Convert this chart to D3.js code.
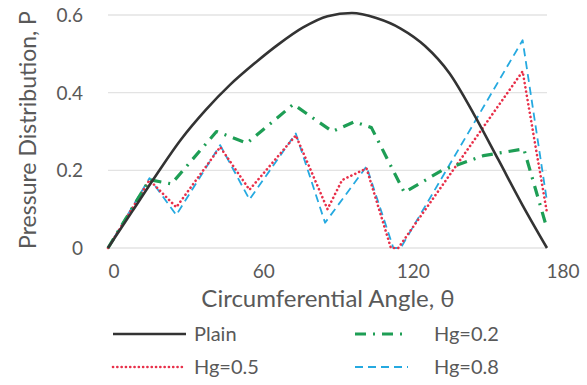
<!DOCTYPE html>
<html>
<head>
<meta charset="utf-8">
<script src="https://cdn.jsdelivr.net/npm/d3@7"></script>
<style>
  body { margin: 0; background: #fff; }
  text { font-family: Lato, "Open Sans", sans-serif; fill: #595959; }
</style>
</head>
<body>
<div id="chart"></div>
<script>
// chart data
var thetaPlain = [0, 10, 20, 30, 40, 50, 60, 70, 80, 90, 100, 110, 120, 130, 140, 150, 160, 170, 180];
var plain = [0, 0.095, 0.19, 0.28, 0.355, 0.42, 0.475, 0.525, 0.568, 0.597, 0.605, 0.592, 0.565, 0.52, 0.45, 0.345, 0.228, 0.11, 0];

var thetaHg02 = [0, 17, 26, 44.5, 57, 76, 92, 101, 108, 121.5, 137, 154, 170.5, 180];
var hg02 = [0, 0.176, 0.165, 0.30, 0.27, 0.37, 0.30, 0.325, 0.31, 0.143, 0.20, 0.238, 0.255, 0.05];

var thetaHg05 = [0, 17, 28, 46, 58, 77, 90, 96, 106, 116, 119, 170, 180];
var hg05 = [0, 0.175, 0.105, 0.26, 0.15, 0.29, 0.10, 0.175, 0.205, 0, 0, 0.455, 0.09];

var thetaHg08 = [0, 17, 28, 46, 58, 77, 89, 106, 117, 120, 170, 180];
var hg08 = [0, 0.18, 0.085, 0.265, 0.125, 0.295, 0.065, 0.21, 0, 0, 0.535, 0.12];

var xTicks = [0, 60, 120, 180];
var yTicks = [0, 0.2, 0.4, 0.6];
var yTickLabels = ["0", "0.2", "0.4", "0.6"];

var w = 587, h = 385;

var svg = d3.select("#chart").append("svg").attr("width", w).attr("height", h);

var x = d3.scaleLinear().domain([0, 180]).range([108, 547]);
var xLab = d3.scaleLinear().domain([0, 180]).range([114, 563]); // labels sit right of the plot ends
var y = d3.scaleLinear().domain([0, 0.6]).range([248, 15]);

// gridlines
svg.selectAll(".grid").data(yTicks).enter().append("line")
  .attr("x1", x(0)).attr("x2", x(180))
  .attr("y1", function(d) { return y(d); }).attr("y2", function(d) { return y(d); })
  .style("stroke", "#e3e3e3").style("stroke-width", 1.3);

// y tick labels
svg.selectAll(".ylab").data(yTicks).enter().append("text")
  .attr("x", 83).attr("y", function(d) { return y(d) + 7; })
  .attr("text-anchor", "end").style("font-size", "19px")
  .text(function(d, i) { return yTickLabels[i]; });

// x tick labels
svg.selectAll(".xlab").data(xTicks).enter().append("text")
  .attr("x", function(d) { return xLab(d); }).attr("y", 278)
  .attr("text-anchor", "middle").style("font-size", "19px")
  .text(function(d) { return d; });

// axis titles
svg.append("text").attr("x", 328).attr("y", 307)
  .attr("text-anchor", "middle").style("font-size", "24px")
  .text("Circumferential Angle, \u03b8");

svg.append("text").attr("transform", "translate(36,130) rotate(-90)")
  .attr("text-anchor", "middle").style("font-size", "23px")
  .text("Pressure Distribution, P");

var series = [
  { name: "Hg=0.8", t: thetaHg08, v: hg08, color: "#25a9e0", width: 1.8, dash: "8,5", cap: "butt" },
  { name: "Hg=0.5", t: thetaHg05, v: hg05, color: "#e8304a", width: 2.6, dash: "0.1,4.2", cap: "round" },
  { name: "Hg=0.2", t: thetaHg02, v: hg02, color: "#1e9e55", width: 3.2, dash: "11,7,2,7", cap: "butt" },
  { name: "Plain", t: thetaPlain, v: plain, color: "#333333", width: 2.6, dash: null, cap: "butt" }
];

var line = d3.line()
  .x(function(d) { return x(d[0]); })
  .y(function(d) { return y(d[1]); });

series.forEach(function(s) {
  var pts = s.t.map(function(t, i) { return [t, s.v[i]]; });
  line.curve(s.name === "Plain" ? d3.curveMonotoneX : d3.curveLinear);
  svg.append("path").datum(pts)
    .attr("d", line)
    .style("fill", "none")
    .style("stroke", s.color)
    .style("stroke-width", s.width)
    .style("stroke-dasharray", s.dash)
    .style("stroke-linecap", s.cap)
    .style("stroke-linejoin", "round");
});

// legend
var legendOrder = ["Plain", "Hg=0.2", "Hg=0.5", "Hg=0.8"];
var legendPos = [[113, 334], [355, 334], [113, 367], [355, 367]];
legendOrder.forEach(function(name, i) {
  var s = series.filter(function(d) { return d.name === name; })[0];
  var p = legendPos[i];
  var len = i % 2 === 0 ? 73 : 53;
  svg.append("line")
    .attr("x1", p[0]).attr("x2", p[0] + len)
    .attr("y1", p[1]).attr("y2", p[1])
    .style("stroke", s.color).style("stroke-width", s.width)
    .style("stroke-dasharray", s.dash).style("stroke-linecap", s.cap);
  svg.append("text")
    .attr("x", p[0] + (i % 2 === 0 ? 81 : 79)).attr("y", p[1] + 7)
    .style("font-size", "20px")
    .text(name);
});
</script>
</body>
</html>
